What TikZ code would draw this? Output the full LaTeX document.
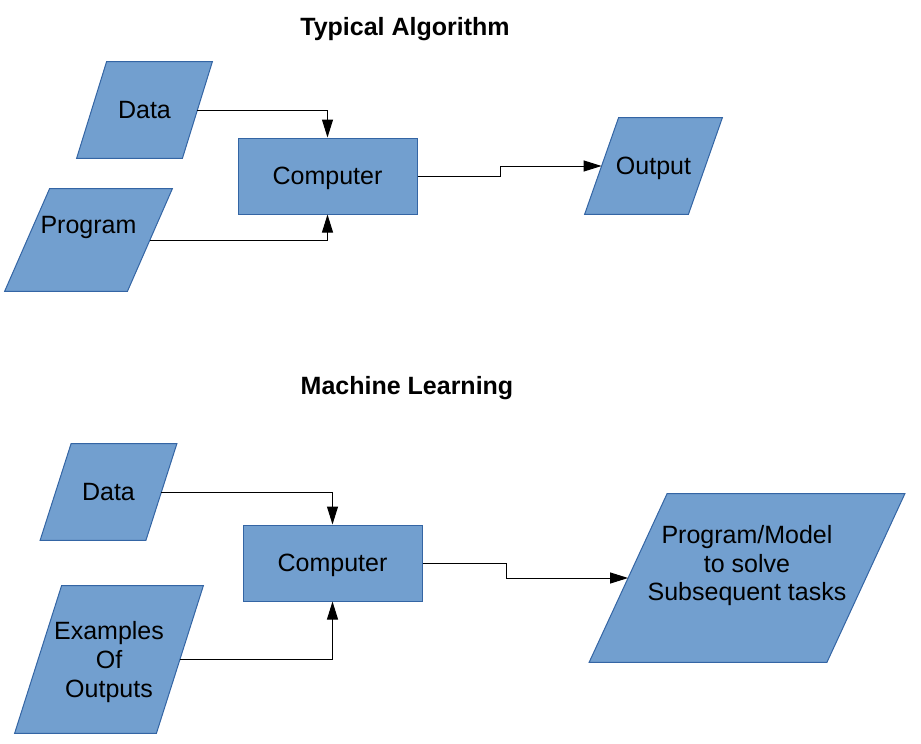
\documentclass[tikz,border=0pt]{standalone}
\usepackage{fontspec}
\setmainfont{Liberation Sans}
\usetikzlibrary{arrows.meta, positioning, backgrounds}
\definecolor{boxfill}{HTML}{729FCF}
\definecolor{boxline}{HTML}{3465A4}
\tikzset{
    procbox/.style={rectangle, draw=boxline, fill=boxfill, line width=0.5pt, minimum width=89.5pt, minimum height=38pt, inner sep=0pt, text depth=0pt, font=\fontsize{12.5}{14.3}\selectfont},
    iobox/.style={rectangle, inner sep=0pt, align=center, text depth=0pt, font=\fontsize{12.5}{14.3}\selectfont},
    iofill/.style={draw=boxline, fill=boxfill, line width=0.5pt},
    lifted/.style={text depth=15pt},
    titlebox/.style={font=\fontsize{12.5}{14.3}\selectfont\bfseries},
    arrow/.style={-{Triangle[length=9pt,width=5.5pt]}, line width=0.5pt, black},
}
\begin{document}
\begin{tikzpicture}[x=0.5pt, y=-0.5pt]
\useasboundingbox (0,0) rectangle (921,744);

% Typical algorithm
\node[titlebox] (title1) at (405,29) {Typical Algorithm};
\node[iobox, minimum width=52.5pt, minimum height=48pt] (data1) at (144.5,110) {Data};
\node[iobox, minimum width=61pt, minimum height=51pt, lifted] (prog) at (88.5,240) {Program};
\node[procbox] (comp1) at (327.5,176) {Computer};
\node[iobox, minimum width=51.5pt, minimum height=48pt] (output) at (653.5,166) {Output};

\draw[arrow] (data1.east) -| (comp1.north);
\draw[arrow] (prog.east) -| (comp1.south);
\draw[arrow] (comp1.east) -- ++(83,0) |- (output.west);

% Machine learning
\node[titlebox] (title2) at (407,388) {Machine Learning};
\node[iobox, minimum width=52.5pt, minimum height=48pt] (data2) at (108.5,492) {Data};
\node[iobox, minimum width=70.5pt, minimum height=73.5pt] (examples) at (109,659.5) {Examples\\Of\\Outputs};
\node[procbox] (comp2) at (332.5,563) {Computer};
\node[iobox, minimum width=118.5pt, minimum height=84pt, lifted] (model) at (747,578) {Program/Model\\to solve\\Subsequent tasks};

\draw[arrow] (data2.east) -| (comp2.north);
\draw[arrow] (examples.east) -| (comp2.south);
\draw[arrow] (comp2.east) -- ++(84,0) |- (model.west);

% parallelogram outlines behind the input/output nodes
\begin{scope}[on background layer]
\foreach \n/\s in {data1/7.5, prog/11.25, output/8.5, data2/7.75, examples/11.75, model/19.5}
  \path[iofill] ([xshift=-\s pt]\n.south west) -- ([xshift=-\s pt]\n.south east)
    -- ([xshift=\s pt]\n.north east) -- ([xshift=\s pt]\n.north west) -- cycle;
\end{scope}
\end{tikzpicture}
\end{document}
